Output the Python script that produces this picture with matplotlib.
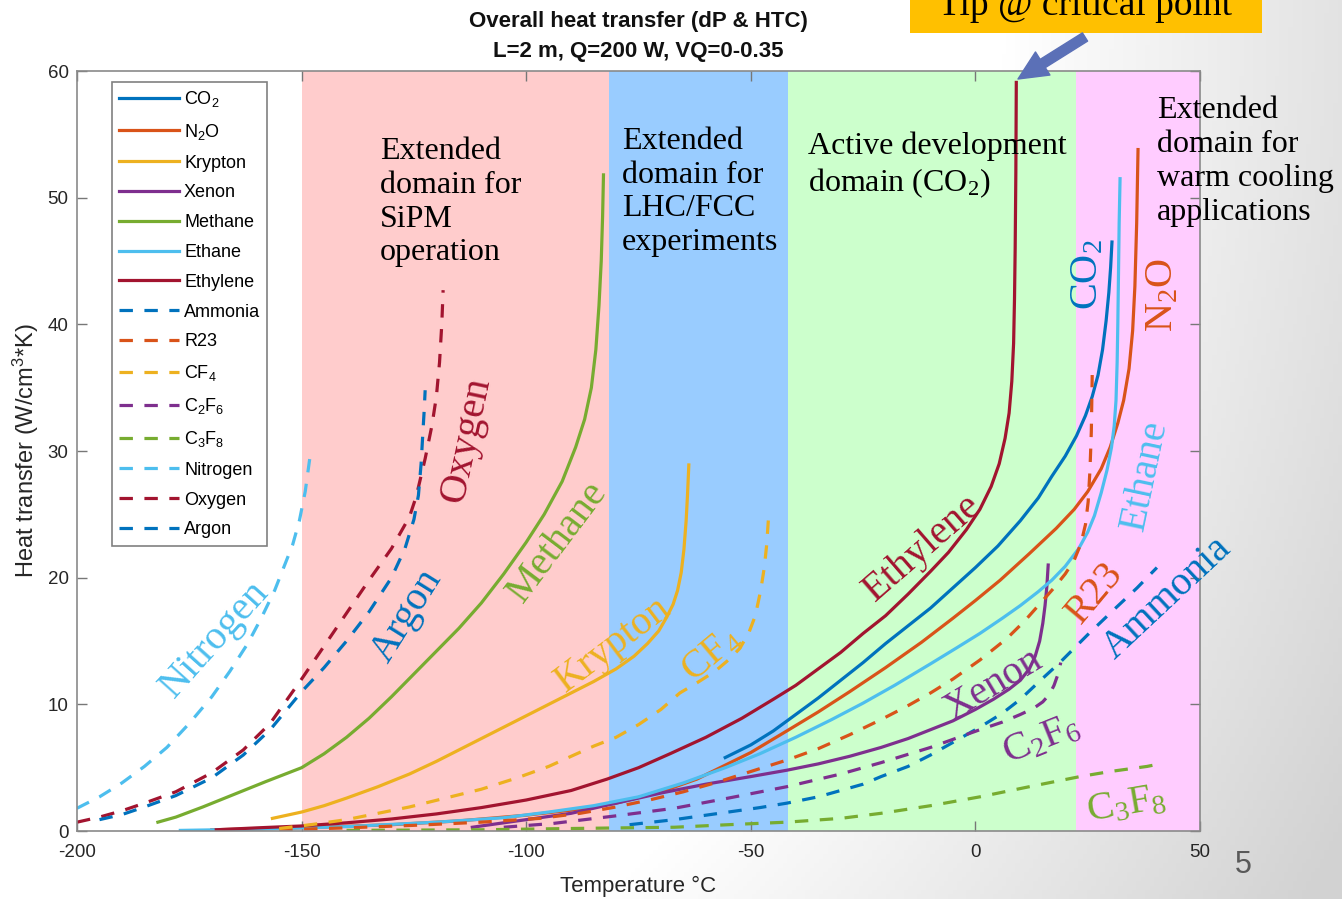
import matplotlib
matplotlib.use("Agg")
import matplotlib.pyplot as plt
import numpy as np
from matplotlib.patches import Rectangle, FancyArrowPatch

# ---- data (temperature degC, heat transfer W/cm3K) ----
co2_T = [-55.7, -50, -45, -40, -35, -30, -25, -20, -15, -10, -5, 0, 5, 10, 14, 17, 20, 22.5,
         24.5, 26, 27.3, 28.3, 29.1, 29.7, 30.1, 30.4]
co2_H = [5.8, 6.8, 7.9, 9.2, 10.5, 11.9, 13.3, 14.8, 16.2, 17.6, 19.2, 20.8, 22.5, 24.5, 26.3, 28.0,
         29.6, 31.2, 32.8, 34.3, 36, 38, 40.3, 42.5, 44.5, 46.5]

n2o_T = [-170, -150, -130, -115, -100, -90, -80, -70, -62, -55.7, -50, -42, -35, -28, -20, -12, -5,
         0, 5.5, 12, 18, 22, 25, 28, 30, 31.7, 33, 34.2, 35, 35.5, 35.9, 36.2]
n2o_H = [0.1, 0.25, 0.5, 0.8, 1.25, 1.65, 2.2, 3.1, 4.1, 5.2, 6.2, 7.9, 9.4, 11.0, 12.9, 14.9, 16.8,
         18.2, 19.8, 21.9, 23.9, 25.4, 26.8, 28.6, 30.3, 32.2, 34, 36.5, 39.5, 43, 48, 53.8]

krypton_T = [-156.5, -150, -145, -140, -133, -126, -120, -115, -110, -105, -100, -95, -90, -85, -80,
             -76, -73, -70.5, -68.7, -67.3, -66.3, -65.5, -64.9, -64.4, -64.1, -63.8]
krypton_H = [1.0, 1.5, 2.0, 2.6, 3.5, 4.5, 5.5, 6.4, 7.3, 8.2, 9.1, 10.0, 10.9, 11.8, 12.8,
             13.8, 14.8, 15.8, 16.9, 17.9, 19.0, 20.4, 22.2, 24.5, 26.5, 28.9]

xenon_T = [-112, -100, -90, -80, -70, -60, -50, -42, -35, -28, -21, -15, -10, -5, 0, 4, 7.5, 10,
           12, 13.3, 14.3, 15, 15.5, 15.9, 16.2]
xenon_H = [0.3, 0.9, 1.4, 2.2, 3.0, 3.7, 4.3, 4.8, 5.3, 5.9, 6.6, 7.3, 8.0, 8.7, 9.6, 10.4, 11.2, 11.9,
           12.8, 13.8, 15, 16.4, 17.8, 19.3, 21]

methane_T = [-182, -178, -172, -165, -158, -150, -145, -140, -135, -130, -125, -120, -115, -110,
             -105, -100, -96, -92, -89, -87, -85.5, -84.5, -83.8, -83.3, -83, -82.8]
methane_H = [0.7, 1.1, 1.9, 2.9, 3.9, 5.0, 6.1, 7.4, 8.9, 10.6, 12.4, 14.2, 16.0, 18.0,
             20.3, 22.8, 25.0, 27.6, 30.3, 32.5, 35, 38, 41.5, 45, 48.5, 51.8]

ethane_T = [-177, -160, -140, -120, -105, -95, -85, -75, -65, -55.7, -48, -40, -32, -25, -18, -10,
            -4, 1, 6, 10, 14, 17, 20, 23, 25, 26.5, 28, 29.3, 30.3, 30.9, 31.3, 31.55, 31.7,
            31.85, 32.0, 32.2]
ethane_H = [0.05, 0.15, 0.35, 0.7, 1.05, 1.5, 2.0, 2.7, 3.8, 5.0, 6.1, 7.4, 8.8, 10.1, 11.5, 13.2,
            14.5, 15.6, 16.8, 17.8, 18.9, 19.8, 20.9, 22.3, 23.6, 24.9, 26.7, 28.5, 30.3, 32.0, 34,
            37, 40, 44, 48, 51.5]

ethylene_T = [-169, -160, -150, -140, -130, -120, -110, -100, -90, -82, -75, -68, -60, -52, -45,
              -40, -35, -30, -25, -20, -15, -10, -6, -2, 1, 3.5, 5.3, 6.6, 7.5, 8.1, 8.5, 8.7,
              8.85, 9.0, 9.1]
ethylene_H = [0.1, 0.25, 0.4, 0.65, 0.95, 1.35, 1.85, 2.45, 3.2, 4.1, 5.0, 6.1, 7.4, 8.9, 10.4,
              11.5, 12.8, 14.1, 15.6, 17.0, 18.7, 20.5, 22.0, 23.8, 25.4, 27.2, 29, 31, 33, 35.5,
              38.5, 42, 46, 52, 59.1]

ammonia_T = [-77, -67, -55, -48, -42, -35, -30, -25, -21, -15, -10, -5, 1, 6, 10, 14.5, 18.8, 25,
             30.6, 36, 40.4]
ammonia_H = [0.5, 0.9, 1.5, 1.85, 2.2, 2.7, 3.2, 3.7, 4.3, 5.1, 6.0, 7.0, 8.2, 9.3, 10.4, 11.9, 13.3,
             15.5, 17.4, 19.2, 20.8]

r23_T = [-155, -140, -125, -110, -97, -88, -80, -72, -65, -58, -50, -42, -35, -28, -21, -15, -10,
         -5, 1, 7, 11, 14.5, 17.5, 20, 22, 23.5, 24.5, 25.1, 25.5, 25.8, 26]
r23_H = [0.1, 0.25, 0.45, 0.7, 1.0, 1.4, 1.9, 2.5, 3.1, 3.8, 4.7, 5.6, 6.5, 7.6, 8.8, 9.9, 10.9,
         12.0, 13.5, 15.2, 16.6, 18.0, 19.2, 20.3, 21.4, 22.7, 24.2, 26, 28.5, 31.5, 36]

cf4_T = [-155, -148, -140, -133, -126, -118, -110, -102, -95, -90, -85, -80, -75, -70, -65.8, -62,
         -58, -55, -52.5, -50.5, -49, -47.8, -47, -46.5, -46.2, -46]
cf4_H = [0.2, 0.5, 0.9, 1.4, 1.9, 2.6, 3.3, 4.2, 5.1, 5.9, 6.7, 7.4, 8.4, 9.6, 10.9, 11.7,
         12.6, 13.5, 14.4, 15.6, 17, 19, 20.8, 22.5, 24, 25.1]

c2f6_T = [-105, -94, -80, -67, -55, -42, -30, -21, -10, 1, 6, 10, 13, 15, 16.5, 17.5, 18.3, 19]
c2f6_H = [0.3, 0.6, 1.2, 1.8, 2.6, 3.5, 4.5, 5.4, 6.6, 8.0, 8.6, 9.2, 9.7, 10.2, 10.8, 11.5, 12.3, 13.3]

c3f8_T = [-140, -110, -90, -67, -55, -42, -30, -21, -10, 1, 12, 23.3, 30, 38.2, 41]
c3f8_H = [0.05, 0.1, 0.2, 0.3, 0.5, 0.7, 1.0, 1.4, 2.0, 2.7, 3.5, 4.3, 4.7, 5.1, 5.3]

nitrogen_T = [-200, -195, -190, -185, -180, -175, -170, -166, -162, -159, -156, -154, -152, -150.5,
              -149.2, -148]
nitrogen_H = [1.8, 2.7, 3.8, 5.1, 6.6, 8.5, 10.6, 12.6, 14.8, 16.8, 19.0, 20.8, 22.6, 24.5, 26.8, 29.9]

oxygen_T = [-200, -195, -190, -185, -178, -170, -163, -157, -150, -145, -140, -135, -130, -126,
            -124.5, -122.5, -121, -120, -119.3, -118.8, -118.5]
oxygen_H = [0.7, 1.1, 1.6, 2.2, 3.1, 4.6, 6.4, 8.5, 12.0, 14.6, 17.2, 19.8, 22.3, 24.8,
            26.4, 29.4, 32, 34.3, 37, 40, 42.7]

argon_T = [-195, -190, -185, -178, -170, -163, -157, -150, -145, -140, -135, -130, -127, -125,
           -124, -123.4, -123, -122.7, -122.5]
argon_H = [0.9, 1.3, 1.9, 2.8, 4.2, 6.0, 8.0, 11.0, 12.9, 15.0, 17.3, 20.0, 22.3, 24.6,
           26.5, 29, 31.5, 33.3, 34.8]

# temperature domains (shaded bands)
band_edges = [-150, -81.5, -41.7, 22.5, 50]
band_colors = ['#FFCCCC', '#99CCFF', '#CCFFCC', '#FFCCFF']

# MATLAB default colours
C_BLUE, C_ORANGE, C_YELLOW, C_PURPLE = '#0072BD', '#D95319', '#EDB120', '#7E2F8E'
C_GREEN, C_LBLUE, C_DRED = '#77AC30', '#4DBEEE', '#A2142F'

series = [
    (co2_T, co2_H, C_BLUE, '-', r'CO$\mathregular{_2}$'),
    (n2o_T, n2o_H, C_ORANGE, '-', r'N$\mathregular{_2}$O'),
    (krypton_T, krypton_H, C_YELLOW, '-', 'Krypton'),
    (xenon_T, xenon_H, C_PURPLE, '-', 'Xenon'),
    (methane_T, methane_H, C_GREEN, '-', 'Methane'),
    (ethane_T, ethane_H, C_LBLUE, '-', 'Ethane'),
    (ethylene_T, ethylene_H, C_DRED, '-', 'Ethylene'),
    (ammonia_T, ammonia_H, C_BLUE, '--', 'Ammonia'),
    (r23_T, r23_H, C_ORANGE, '--', 'R23'),
    (cf4_T, cf4_H, C_YELLOW, '--', r'CF$\mathregular{_4}$'),
    (c2f6_T, c2f6_H, C_PURPLE, '--', r'C$\mathregular{_2}$F$\mathregular{_6}$'),
    (c3f8_T, c3f8_H, C_GREEN, '--', r'C$\mathregular{_3}$F$\mathregular{_8}$'),
    (nitrogen_T, nitrogen_H, C_LBLUE, '--', 'Nitrogen'),
    (oxygen_T, oxygen_H, C_DRED, '--', 'Oxygen'),
    (argon_T, argon_H, C_BLUE, '--', 'Argon'),
]

plt.rcParams['font.family'] = ['Liberation Sans', 'DejaVu Sans']
plt.rcParams['axes.unicode_minus'] = False

fig = plt.figure(figsize=(13.42, 8.99), dpi=100)

# slide background: white fading to light grey on the right
bg = fig.add_axes([0, 0, 1, 1], zorder=-10)
u = np.linspace(0, 1, 300)
v = np.linspace(0, 1, 200)
U, V = np.meshgrid(u, v)
d = np.sqrt(U**2 + (0.6*V)**2)
g = 1 - (45/255.)*np.clip((d - 0.75)/0.4, 0, 1)
bg.imshow(np.dstack([g, g, g]), extent=[0, 1, 1, 0], aspect='auto')
bg.set_xlim(0, 1); bg.set_ylim(1, 0)
bg.axis('off')

ax = fig.add_axes([0.0574, 0.0756, 0.8368, 0.8454])
ax.set_facecolor('white')

for i in range(len(band_colors)):
    ax.axvspan(band_edges[i], band_edges[i+1], color=band_colors[i], lw=0, zorder=0)

for T, H, c, ls, lab in series:
    if ls == '--':
        ax.plot(T, H, color=c, lw=2.3, dashes=(4.2, 3.6), label=lab, zorder=2,
                solid_joinstyle='round')
    else:
        ax.plot(T, H, color=c, lw=2.3, label=lab, zorder=2, solid_joinstyle='round')

ax.set_xlim(-200, 50)
ax.set_ylim(0, 60)
ax.set_xticks(np.arange(-200, 51, 50))
ax.set_yticks(np.arange(0, 61, 10))
ax.tick_params(direction='in', length=7, width=1, colors='#777777', labelcolor='#262626',
               labelsize=13.5, top=True, right=True)
ax.tick_params(axis='x', pad=9)
ax.tick_params(axis='y', pad=6)
for s in ax.spines.values():
    s.set_color('#8a8a8a')
    s.set_linewidth(1.2)

ax.set_xlabel('Temperature °C', fontsize=16, color='#262626', labelpad=11)
ax.set_ylabel(r'Heat transfer (W/cm$\mathregular{^3}$*K)', fontsize=17, color='#262626', labelpad=5)

fig.text(0.4755, 1 - 21/899., 'Overall heat transfer (dP & HTC)', ha='center', va='center',
         fontsize=16, fontweight='bold', color='#111111')
fig.text(0.4755, 1 - 52/899., 'L=2 m, Q=200 W, VQ=0-0.35', ha='center', va='center',
         fontsize=16, fontweight='bold', color='#111111')

leg = ax.legend(loc='upper left', bbox_to_anchor=(0.031, 0.986), borderaxespad=0,
                fontsize=13, handlelength=3.3, handletextpad=0.3, labelspacing=0.71,
                fancybox=False, framealpha=1, edgecolor='#808080', borderpad=0.4)
leg.get_frame().set_linewidth(1.2)

# domain descriptions
serif = 'Liberation Serif'
ax.text(-132.5, 54.8, 'Extended\ndomain for\nSiPM\noperation', family=serif, fontsize=23,
        va='top', ha='left', linespacing=1.22)
ax.text(-78.7, 55.6, 'Extended\ndomain for\nLHC/FCC\nexperiments', family=serif, fontsize=23,
        va='top', ha='left', linespacing=1.22)
ax.text(-37.3, 55.2, 'Active development\ndomain (CO$\\mathregular{_2}$)', family=serif, fontsize=23,
        va='top', ha='left', linespacing=1.22)
ax.text(40.4, 58.0, 'Extended\ndomain for\nwarm cooling\napplications', family=serif, fontsize=23,
        va='top', ha='left', linespacing=1.22, clip_on=False)

# curve labels
curve_labels = [
    ('Nitrogen', C_LBLUE, -169.3, 15.1, 48),
    ('Argon', C_BLUE, -126.5, 17.0, 58),
    ('Oxygen', C_DRED, -113.4, 30.9, 78),
    ('Methane', C_GREEN, -92.9, 22.8, 53),
    ('Krypton', C_YELLOW, -80.7, 14.7, 37),
    (r'CF$\mathregular{_4}$', C_YELLOW, -58.6, 13.9, 40),
    ('Ethylene', C_DRED, -11.7, 22.3, 41),
    (r'CO$\mathregular{_2}$', C_BLUE, 25.1, 43.9, 90),
    (r'N$\mathregular{_2}$O', C_ORANGE, 41.8, 42.3, 90),
    ('Ethane', C_LBLUE, 37.8, 28.1, 78),
    ('R23', C_ORANGE, 26.6, 18.8, 50),
    ('Ammonia', C_BLUE, 42.7, 18.4, 43),
    ('Xenon', C_PURPLE, 3.9, 11.5, 31),
    (r'C$\mathregular{_2}$F$\mathregular{_6}$', C_PURPLE, 14.8, 7.2, 22),
    (r'C$\mathregular{_3}$F$\mathregular{_8}$', C_GREEN, 33.7, 2.05, 10),
]
for txt, c, x, y, rot in curve_labels:
    ax.text(x, y, txt, color=c, family=serif, fontsize=29, rotation=rot,
            rotation_mode='anchor', ha='center', va='center', zorder=3, clip_on=False)

# "Tip @ critical point" callout (cut off by the slide edge in the original)
fig.patches.append(Rectangle((910/1342., 1 - 33/899.), 352/1342., 33/899., transform=fig.transFigure,
                             facecolor='#FFC000', edgecolor='none', zorder=5))
fig.text(1085/1342., 1 - 15/899., 'Tip @ critical point', family=serif, fontsize=27,
         ha='center', va='baseline', zorder=6)
fig.patches.append(FancyArrowPatch((1085/1342., 1 - 37/899.), (1018/1342., 1 - 79/899.),
                                   transform=fig.transFigure, color='#5B70B7', zorder=6,
                                   arrowstyle='simple,head_length=1.5,head_width=1.4,tail_width=0.5',
                                   mutation_scale=14, shrinkA=0, shrinkB=0))

fig.text(1243/1342., 1 - 865/899., '5', fontsize=22, color='#595959', ha='center', va='center')

fig.savefig('out.png', dpi=100)
